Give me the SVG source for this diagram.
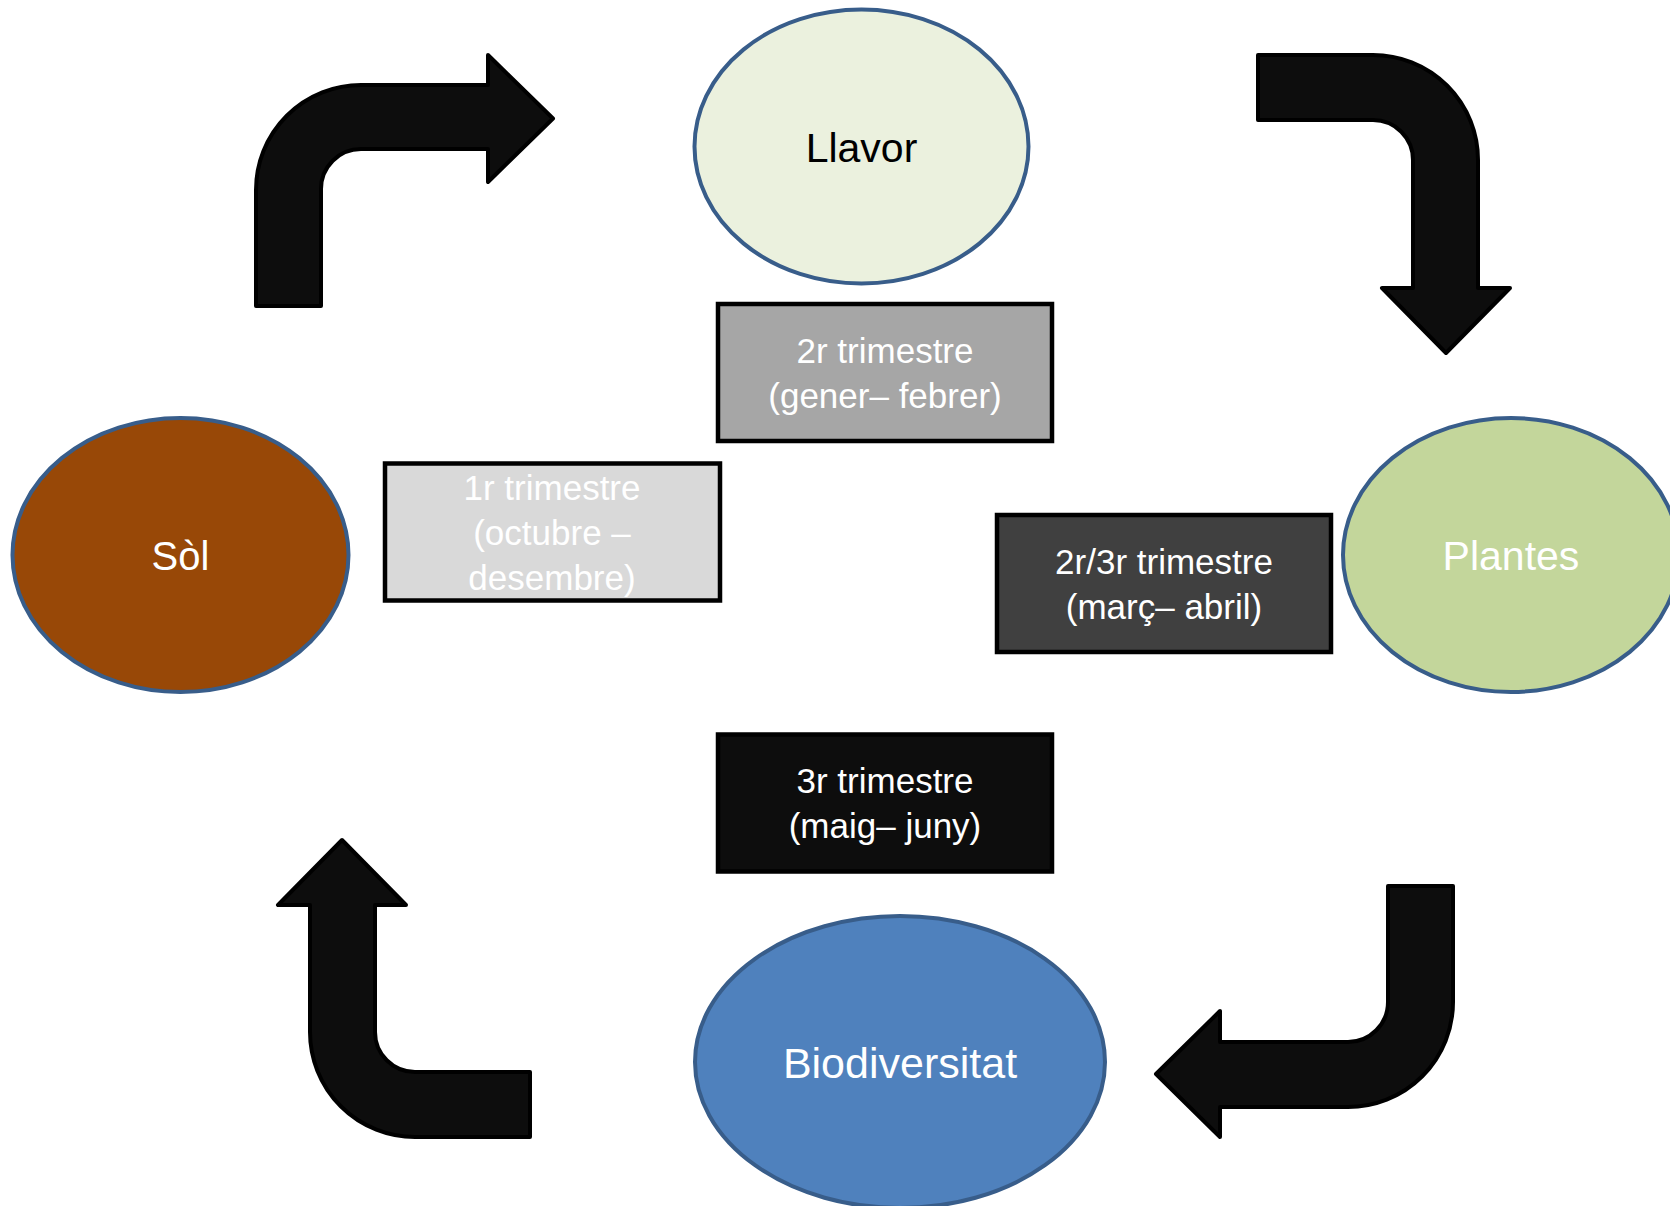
<svg xmlns="http://www.w3.org/2000/svg" width="1670" height="1206" viewBox="0 0 1670 1206">
<style>
.bg{fill:#ffffff}
.node ellipse{stroke:#385d8a;stroke-width:4}
.box rect{stroke:#000000;stroke-width:4.5}
.arrow{fill:#0d0d0d;stroke:#000000;stroke-width:4;stroke-linejoin:round}
text{font-family:"Liberation Sans",Arial,sans-serif;text-anchor:middle}
.lbl{font-size:35px;fill:#ffffff}
</style>
<rect class="bg" x="0" y="0" width="1670" height="1206"/>
<g id="connectors">
<path class="arrow" d="M256,306 L256,190 A105,105 0 0 1 361,85 L488,85 L488,55 L553,118.5 L488,182 L488,149 L361,149 A40,40 0 0 0 321,189 L321,306 Z"/>
<path class="arrow" d="M1258,55 L1373,55 A105,105 0 0 1 1478,160 L1478,288 L1510,288 L1446,353 L1382,288 L1413,288 L1413,160 A40,40 0 0 0 1373,120 L1258,120 Z"/>
<path class="arrow" d="M1388,886 L1453,886 L1453,1002 A105,105 0 0 1 1348,1107 L1220,1107 L1220,1137 L1156,1074 L1220,1011 L1220,1042 L1348,1042 A40,40 0 0 0 1388,1002 Z"/>
<path class="arrow" d="M530,1072 L415,1072 A40,40 0 0 1 375,1032 L375,905 L406,905 L342,840 L278,905 L310,905 L310,1032 A105,105 0 0 0 415,1137 L530,1137 Z"/>
</g>
<g id="llavor" class="node">
<ellipse cx="861.5" cy="146.5" rx="167" ry="137" fill="#ebf1de"/>
<text x="861.5" y="162" font-size="41" fill="#000000">Llavor</text>
</g>
<g id="sol" class="node">
<ellipse cx="180.5" cy="555" rx="168" ry="137" fill="#984807"/>
<text x="180.5" y="570" font-size="40" fill="#ffffff">Sòl</text>
</g>
<g id="plantes" class="node">
<ellipse cx="1511" cy="555" rx="168" ry="137" fill="#c3d69b"/>
<text x="1511" y="570" font-size="41" fill="#ffffff">Plantes</text>
</g>
<g id="biodiversitat" class="node">
<ellipse cx="900" cy="1062" rx="205" ry="146" fill="#4f81bd"/>
<text x="900" y="1078" font-size="43" fill="#ffffff">Biodiversitat</text>
</g>
<g id="box-2r" class="box">
<rect x="718" y="304" width="334" height="137" fill="#a6a6a6"/>
<text class="lbl" x="885" y="363">2r trimestre</text>
<text class="lbl" x="885" y="408">(gener– febrer)</text>
</g>
<g id="box-1r" class="box">
<rect x="385" y="463.5" width="335" height="137" fill="#d9d9d9"/>
<text class="lbl" x="552" y="500">1r trimestre</text>
<text class="lbl" x="552" y="545">(octubre –</text>
<text class="lbl" x="552" y="590">desembre)</text>
</g>
<g id="box-2r3r" class="box">
<rect x="997" y="515" width="334" height="137" fill="#404040"/>
<text class="lbl" x="1164" y="574">2r/3r trimestre</text>
<text class="lbl" x="1164" y="619">(març– abril)</text>
</g>
<g id="box-3r" class="box">
<rect x="718" y="734.5" width="334" height="137" fill="#0d0d0d"/>
<text class="lbl" x="885" y="793">3r trimestre</text>
<text class="lbl" x="885" y="838">(maig– juny)</text>
</g>
</svg>
